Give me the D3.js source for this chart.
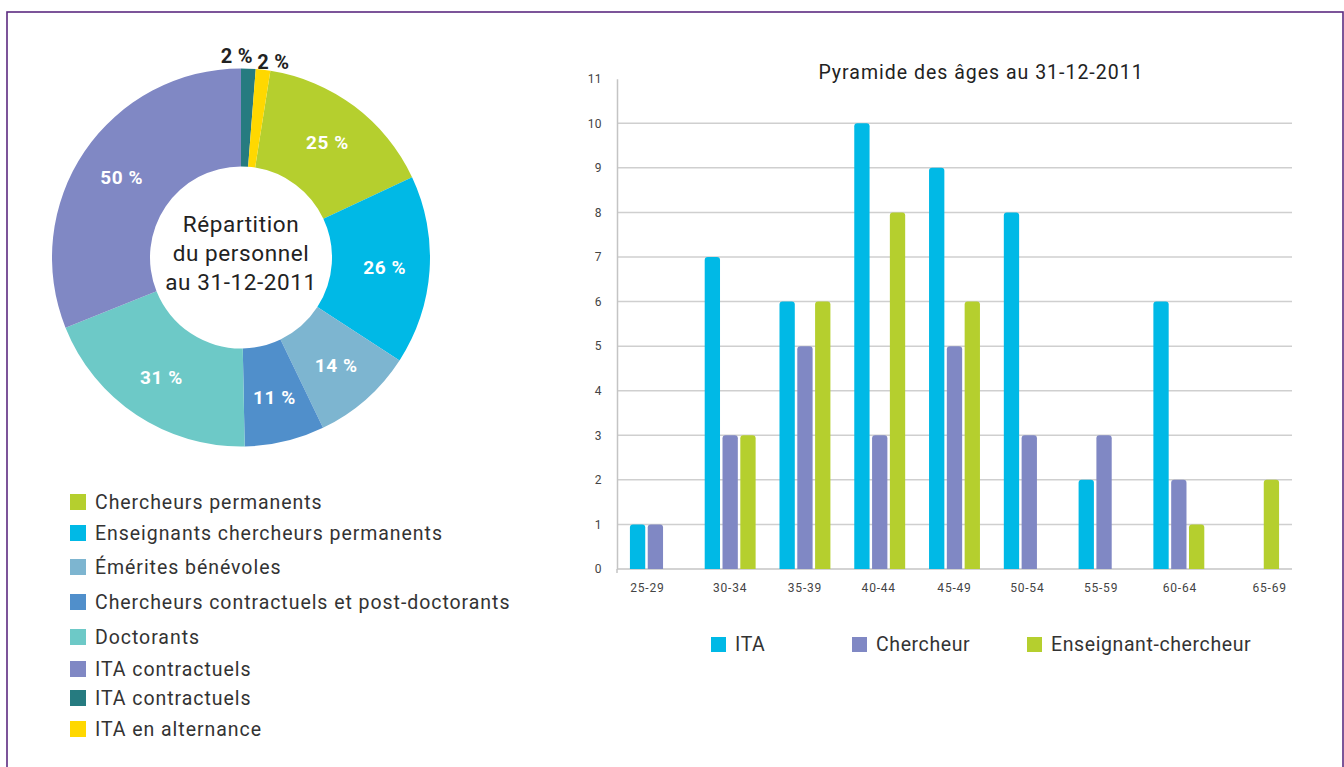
<!DOCTYPE html>
<html><head><meta charset="utf-8">
<script src="https://cdn.jsdelivr.net/npm/d3@7"></script>
<style>
html,body{margin:0;padding:0;background:#fff;}
svg{display:block;font-family:Roboto, "Noto Sans", sans-serif;}
</style></head>
<body><svg id="c" width="1344" height="767"></svg>
<script>
// ---------- DATA ----------
const pieCategories = ["Chercheurs permanents","Enseignants chercheurs permanents","Émérites bénévoles","Chercheurs contractuels et post-doctorants","Doctorants","ITA contractuels","ITA contractuels","ITA en alternance"];
const pieValues = [25, 26, 14, 11, 31, 50, 2, 2];
const pieColors = ["#b5cf2e","#00b9e6","#7db5d0","#508fcb","#6dc9c7","#8088c4","#267b80","#ffd800"];
const centerTitle = ["Répartition","du personnel","au 31-12-2011"];

const ageGroups = ["25-29","30-34","35-39","40-44","45-49","50-54","55-59","60-64","65-69"];
const seriesNames = ["ITA","Chercheur","Enseignant-chercheur"];
const itaValues = [1, 7, 6, 10, 9, 8, 2, 6, 0];
const chercheurValues = [1, 3, 5, 3, 5, 3, 3, 2, 0];
const ecValues = [0, 3, 6, 8, 6, 0, 0, 1, 2];
const seriesColors = ["#00b9e6","#8088c4","#b5cf2e"];
const yTicks = [0,1,2,3,4,5,6,7,8,9,10,11];
const barTitle = "Pyramide des âges au 31-12-2011";

// ---------- SETUP ----------
const svg = d3.select("#c");
svg.append("rect").attr("x",7).attr("y",12).attr("width",1336).attr("height",800)
  .attr("fill","none").attr("stroke","#5c2b80").attr("stroke-width",1.6);

// ---------- DONUT ----------
const cx = 241, cy = 257.5, rOuter = 189, rInner = 91;
const total = d3.sum(pieValues);
const lead = (pieValues[6] + pieValues[7]) / total * 2 * Math.PI;
const pie = d3.pie().sort(null).value(d => d).startAngle(lead).endAngle(lead + 2*Math.PI);
const arcs = pie(pieValues);
const arc = d3.arc().innerRadius(rInner).outerRadius(rOuter);
const labelArc = d3.arc().innerRadius(144).outerRadius(144);
const outArc = d3.arc().innerRadius(200).outerRadius(200);
const g = svg.append("g").attr("transform",`translate(${cx},${cy})`);
g.selectAll("path.slice").data(arcs).join("path").attr("class","slice")
  .attr("d", arc).attr("fill",(d,i)=>pieColors[i]);
// labels
g.selectAll("text.pl").data(arcs.filter((d,i)=>i<6)).join("text").attr("class","pl")
  .attr("transform", d => `translate(${labelArc.centroid(d)})`)
  .attr("text-anchor","middle").attr("dy","0.36em")
  .attr("fill","#fff").attr("font-weight","bold").attr("font-size",19).attr("letter-spacing",0.6)
  .text(d => d.value + " %");
const smallOffsets = [[-12,-2],[9,3]];
g.selectAll("text.ps").data(arcs.filter((d,i)=>i>=6)).join("text").attr("class","ps")
  .attr("transform", (d,i) => { const c = outArc.centroid(d); return `translate(${c[0]+smallOffsets[i][0]},${c[1]+smallOffsets[i][1]})`; })
  .attr("text-anchor","middle").attr("dy","0.36em")
  .attr("fill","#222").attr("font-weight","bold").attr("font-size",20).attr("letter-spacing",0.3)
  .text(d => d.value + " %");
g.selectAll("text.ct").data(centerTitle).join("text").attr("class","ct")
  .attr("text-anchor","middle").attr("x",0).attr("y",(d,i)=> -26 + i*29)
  .attr("fill","#222").attr("font-size",22.5).attr("letter-spacing",0.6).text(d=>d);

// donut legend
const legY = [502,533,567,602,637,669,698,729];
const lg = svg.append("g");
pieCategories.forEach((c,i)=>{
  lg.append("rect").attr("x",70).attr("y",legY[i]-8).attr("width",16).attr("height",16).attr("fill",pieColors[i]);
  lg.append("text").attr("x",95).attr("y",legY[i]).attr("dy","0.35em").attr("font-size",19.5).attr("letter-spacing",0.95).attr("fill","#333").text(c);
});

// ---------- BAR CHART ----------
const x0 = d3.scaleBand().domain(ageGroups).range([618, 1291]).padding(0);
const x1 = d3.scaleBand().domain(seriesNames).range([0, x0.bandwidth()]).paddingInner(0.14).paddingOuter(0.67);
const y = d3.scaleLinear().domain([0, 11]).range([569, 78.7]);
const bg = svg.append("g");
// gridlines
bg.selectAll("line.grid").data(yTicks.filter(t=>t>0 && t<11)).join("line").attr("class","grid")
  .attr("x1",617).attr("x2",1292).attr("y1",d=>y(d)).attr("y2",d=>y(d))
  .attr("stroke","#cfcfcf").attr("stroke-width",1.5);
// y axis
const yAxis = d3.axisLeft(y).tickValues(yTicks).tickSize(0).tickPadding(15);
const ya = bg.append("g").attr("transform","translate(617,0)").call(yAxis);
ya.select(".domain").attr("stroke","#c4c4c4").attr("stroke-width",1.5);
ya.selectAll("text").attr("font-size",12).attr("fill","#444").attr("font-family","Roboto, sans-serif").attr("letter-spacing",0.4);
// baseline
bg.append("line").attr("x1",617).attr("x2",1292).attr("y1",y(0)).attr("y2",y(0)).attr("stroke","#c4c4c4").attr("stroke-width",1.5);
bg.append("line").attr("x1",617).attr("x2",617).attr("y1",y(0)).attr("y2",y(0)+4).attr("stroke","#c4c4c4").attr("stroke-width",1.5);
// x axis labels
const labelShift = [-8,0,0,-1,0,-2,-3,1,16];
const xAxis = d3.axisBottom(x0).tickSize(0).tickPadding(14);
const xa = bg.append("g").attr("transform",`translate(0,${y(0)})`).call(xAxis);
xa.select(".domain").remove();
xa.selectAll("text").attr("font-size",12).attr("fill","#444").attr("font-family","Roboto, sans-serif")
  .attr("letter-spacing",0.8).attr("dx",(d,i)=>labelShift[i]);

// bars
const seriesData = [itaValues, chercheurValues, ecValues];
const rows = ageGroups.map((a,i)=>({group:a, vals: seriesNames.map((s,j)=>({s, j, v: seriesData[j][i]}))}));
function topRounded(x, yTop, w, yBot, r){
  r = Math.min(r, w/2, (yBot-yTop));
  return `M${x},${yBot}V${yTop+r}Q${x},${yTop} ${x+r},${yTop}H${x+w-r}Q${x+w},${yTop} ${x+w},${yTop+r}V${yBot}Z`;
}
const gg = bg.selectAll("g.grp").data(rows).join("g").attr("class","grp")
  .attr("transform", d=>`translate(${x0(d.group)},0)`);
gg.selectAll("path").data(d=>d.vals.filter(v=>v.v>0)).join("path")
  .attr("d", d=>topRounded(x1(d.s), y(d.v), x1.bandwidth(), y(0), 3))
  .attr("fill", d=>seriesColors[d.j]);

// title
svg.append("text").attr("x",981).attr("y",79).attr("text-anchor","middle")
  .attr("font-size",19.5).attr("letter-spacing",1.0).attr("fill","#222").text(barTitle);

// bar legend
const legX = [711, 852, 1027];
seriesNames.forEach((s,i)=>{
  svg.append("rect").attr("x",legX[i]).attr("y",637).attr("width",15).attr("height",15).attr("fill",seriesColors[i]);
  svg.append("text").attr("x",legX[i]+24).attr("y",644.5).attr("dy","0.35em").attr("font-size",19.5).attr("letter-spacing",0.6).attr("fill","#333").text(s);
});
</script></body></html>
